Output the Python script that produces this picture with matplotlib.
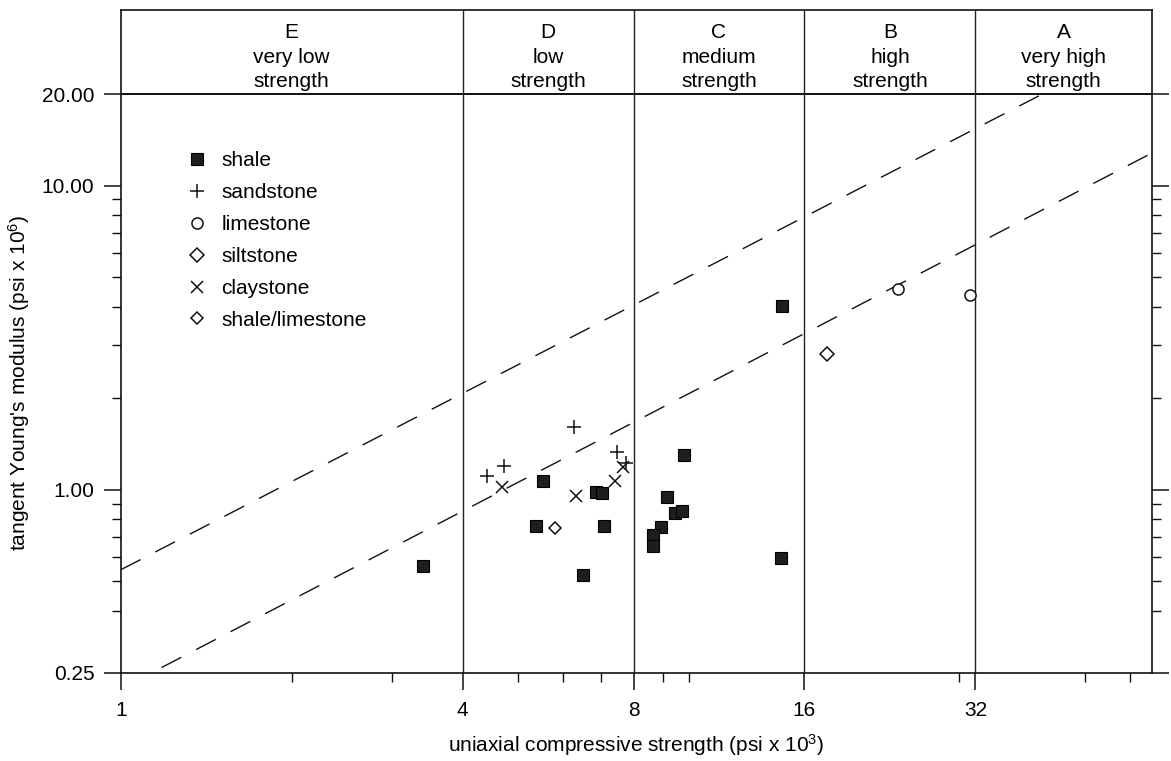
import numpy as np
import matplotlib.pyplot as plt
from matplotlib.ticker import FixedLocator, NullFormatter

plt.rcParams['font.family'] = ['Liberation Sans', 'DejaVu Sans']
plt.rcParams['mathtext.default'] = 'regular'
plt.rcParams['font.size'] = 15

# strength classes (header)
class_edges = [1, 4, 8, 16, 32, 65.5]
class_letters = ['E', 'D', 'C', 'B', 'A']
class_names = ['very low', 'low', 'medium', 'high', 'very high']

# data (UCS in psi x 10^3, E in psi x 10^6)
shale_x = [3.41, 5.55, 5.39, 6.53, 6.87, 7.03, 7.10, 9.82, 9.16, 9.46, 9.74, 8.95, 8.66, 8.66, 14.56, 14.58]
shale_y = [0.559, 1.07, 0.76, 0.524, 0.979, 0.974, 0.76, 1.30, 0.945, 0.841, 0.852, 0.753, 0.71, 0.653, 0.597, 4.03]

sand_x = [4.42, 4.74, 6.29, 7.49, 7.76]
sand_y = [1.11, 1.20, 1.61, 1.33, 1.22]

lime_x = [23.37, 31.34]
lime_y = [4.58, 4.36]

silt_x = [17.56]
silt_y = [2.79]

clay_x = [4.70, 6.33, 7.42, 7.68]
clay_y = [1.02, 0.955, 1.07, 1.19]

shlime_x = [5.81]
shlime_y = [0.747]

# modulus ratio bounds (dashed)
upper_x = [1.0, 42.0]
upper_y = [0.545, 20.0]
lower_x = [1.18, 65.5]
lower_y = [0.26, 12.8]

fig = plt.figure(figsize=(11.71, 7.61), dpi=100)
ax = fig.add_axes([0.1031, 0.1160, 0.8807, 0.8709])
ax.set_xscale('log')
ax.set_yscale('log')
ax.set_xlim(1, 65.5)
ax.set_ylim(0.25, 37.8)

# header box
ax.axhline(20, color='#111111', lw=1.4)
for b in class_edges[1:-1]:
    ax.axvline(b, color='#222222', lw=1.0)

trans = ax.get_xaxis_transform()
for i in range(len(class_letters)):
    xc = np.sqrt(class_edges[i] * class_edges[i + 1])
    ax.text(xc, 0.958, class_letters[i], ha='center', va='baseline', transform=trans)
    ax.text(xc, 0.9196, class_names[i], ha='center', va='baseline', transform=trans)
    ax.text(xc, 0.8833, 'strength', ha='center', va='baseline', transform=trans)

ax.plot(upper_x, upper_y, color='#111111', lw=1.0, dashes=(16, 12))
ax.plot(lower_x, lower_y, color='#111111', lw=1.0, dashes=(16, 12))

ax.plot(shale_x, shale_y, 's', ms=8, mfc='#1e1e1e', mec='#000000', mew=0.8, ls='none', label='shale')
ax.plot(sand_x, sand_y, '+', ms=10, mec='#111111', mew=1.1, ls='none', label='sandstone')
ax.plot(lime_x, lime_y, 'o', ms=8, mfc='white', mec='#111111', mew=1.1, ls='none', label='limestone')
ax.plot(silt_x, silt_y, 'D', ms=7.5, mfc='white', mec='#111111', mew=1.1, ls='none', label='siltstone')
ax.plot(clay_x, clay_y, 'x', ms=9, mec='#111111', mew=1.1, ls='none', label='claystone')
ax.plot(shlime_x, shlime_y, 'D', ms=6.5, mfc='white', mec='#111111', mew=1.1, ls='none', label='shale/limestone')

ax.legend(loc='upper left', bbox_to_anchor=(0.0643, 0.787), frameon=False,
          borderaxespad=0, borderpad=0, handlelength=1.0, handletextpad=0.65,
          labelspacing=0.62, fontsize=15)

# ticks
ax.set_xticks([1, 4, 8, 16, 32])
ax.set_xticklabels(['1', '4', '8', '16', '32'])
ax.xaxis.set_minor_locator(FixedLocator([2, 3, 5, 6, 7, 9, 10, 30, 50, 60]))
ax.xaxis.set_minor_formatter(NullFormatter())

ax.set_yticks([0.25, 1, 10, 20])
ax.set_yticklabels(['0.25', '1.00', '10.00', '20.00'])
ax.yaxis.set_minor_locator(FixedLocator([0.4, 0.5, 0.6, 0.7, 0.8, 0.9, 2, 3, 4, 5, 6, 7, 8, 9]))
ax.yaxis.set_minor_formatter(NullFormatter())

ax.tick_params(which='major', length=12, width=1.1, direction='out', labelsize=15, color='#111111')
ax.tick_params(which='minor', length=6.5, width=1.0, direction='out', color='#111111')
ax.tick_params(axis='x', which='major', pad=8.5)
ax.tick_params(axis='y', which='major', pad=7)
ax.tick_params(axis='y', which='both', right=True, labelright=False)

for sp in ax.spines.values():
    sp.set_linewidth(1.2)
    sp.set_color('#111111')

ax.set_xlabel('uniaxial compressive strength (psi x 10$^3$)', fontsize=15)
ax.set_ylabel("tangent Young's modulus (psi x 10$^6$)", fontsize=15)
ax.xaxis.set_label_coords(0.5, -0.089)
ax.yaxis.set_label_coords(-0.086, 0.437)

fig.savefig('out.png', dpi=100)
